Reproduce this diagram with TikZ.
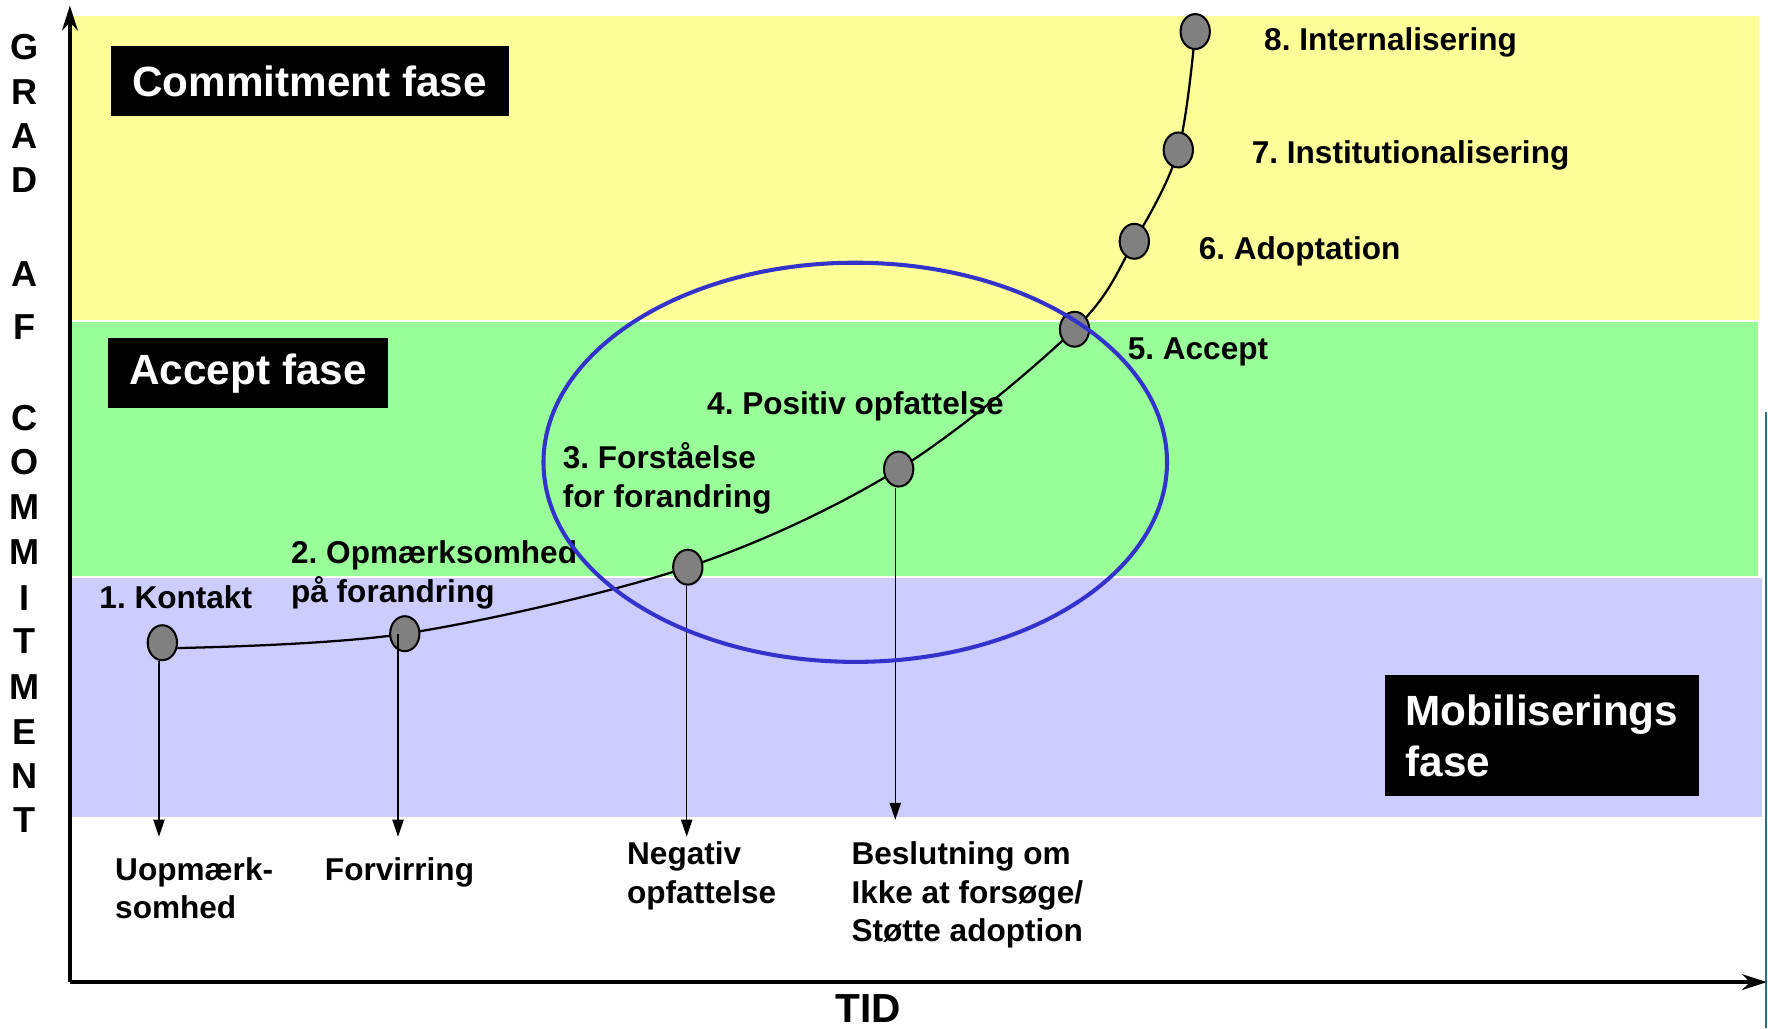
\documentclass[tikz,border=0pt]{standalone}
\usepackage{fontspec}
\setmainfont{Liberation Sans}
\usetikzlibrary{arrows.meta, positioning, shapes.geometric}
\definecolor{bandyellow}{HTML}{FFFF99}
\definecolor{bandgreen}{HTML}{99FF99}
\definecolor{bandblue}{HTML}{CCCCFF}
\definecolor{dotgray}{HTML}{808080}
\definecolor{ringblue}{HTML}{3333CC}
\definecolor{edgeteal}{HTML}{2E6A8C}
\tikzset{
    phase/.style={fill=black, text=white, font=\bfseries\fontsize{37.5}{45}\selectfont, inner sep=0pt, align=left},
    stage/.style={font=\bfseries\fontsize{28}{34}\selectfont, inner sep=0pt, align=left, anchor=north west},
    dot/.style={ellipse, draw=black, line width=1.8pt, fill=dotgray, minimum width=26pt, minimum height=31pt, inner sep=0pt},
    drop/.style={-{Triangle[length=15pt,width=10pt]}, line width=1.1pt},
    axis/.style={line width=3pt, -{Stealth[length=22pt,width=14pt,inset=7pt]}},
    axisletter/.style={font=\bfseries\fontsize{32}{32}\selectfont, inner sep=0pt},
}

\begin{document}
\frenchspacing
\begin{tikzpicture}[x=1pt, y=-1pt]
    \useasboundingbox (0,0) rectangle (1568,912);

    \fill[bandyellow] (64,14) rectangle (1560,284);
    \fill[bandgreen] (64,286) rectangle (1559,511);
    \fill[bandblue] (64,513) rectangle (1563,725);
    \draw[edgeteal, line width=2pt] (1566,365) -- (1566,912);

    \node[phase, minimum width=353pt, minimum height=62pt] (commit) at (274.5,72) {Commitment fase};
    \node[phase, minimum width=248pt, minimum height=62pt] (accept) at (220,331) {Accept fase};
    \node[phase, minimum width=279pt, minimum height=107pt] (mobil) at (1367.5,652.5) {Mobiliserings\\fase};

    \foreach \ch/\y in {G/42, R/82, A/121, D/160, A/243, F/290, C/371, O/410, M/450, M/490, I/530, T/569, M/609, E/649, N/688, T/727}
      \node[axisletter] (g\y) at (22,\y) {\ch};

    \coordinate (origin) at (62,871);
    \coordinate (ytop) at (62,5);
    \coordinate (xend) at (1567,871);
    \draw[axis] (origin) -- (ytop);
    \draw[axis] (origin) -- (xend);
    \node[font=\bfseries\fontsize{36}{36}\selectfont, inner sep=0pt, anchor=base] (tid) at (770,907) {TID};

    \node[stage] (l1) at (88,519.5) {1. Kontakt};
    \node[stage] (l2) at (258,479.5) {2. Opmærksomhed\\på forandring};
    \node[stage] (l3) at (499,392.5) {3. Forståelse\\for forandring};
    \node[stage] (l4) at (627,347.5) {4. Positiv opfattelse};
    \node[stage] (l5) at (1000,299.5) {5. Accept};
    \node[stage] (l6) at (1063,209.5) {6. Adoptation};
    \node[stage] (l7) at (1110,124.5) {7. Institutionalisering};
    \node[stage] (l8) at (1121,24.5) {8. Internalisering};

    \node[stage] (b1) at (102,760.5) {Uopmærk-\\somhed};
    \node[stage] (b2) at (288,760.5) {Forvirring};
    \node[stage] (b3) at (556,746.5) {Negativ\\opfattelse};
    \node[stage] (b4) at (755,746.5) {Beslutning om\\Ikke at forsøge/\\Støtte adoption};

    \coordinate (p1c) at (144,570);
    \coordinate (p2c) at (359,562);
    \coordinate (p3c) at (610,503);
    \coordinate (p4c) at (797,416);
    \coordinate (p5c) at (953,292);
    \coordinate (p6c) at (1006,214);
    \coordinate (p7c) at (1045,133);
    \coordinate (p8c) at (1060,28);
    \draw[line width=2pt] plot[smooth, tension=0.55] coordinates {([yshift=-5pt]p1c) (p2c) (p3c) (p4c) (p5c) (p6c) (p7c) (p8c)};

    \foreach \i in {1,...,8}
      \node[dot] (p\i) at (p\i c) {};

    \coordinate (t1) at (141,742);
    \coordinate (t2) at (353,742);
    \coordinate (t3) at (609,742);
    \coordinate (t4) at (794,727);
    \draw[drop] (p1.south -| t1) -- (t1);
    \draw[drop] (p2.center -| t2) -- (t2);
    \draw[drop] (p3.south -| t3) -- (t3);
    \draw[drop] (p4.south -| t4) -- (t4);

    \node[ellipse, draw=ringblue, line width=3.6pt, minimum width=553pt, minimum height=354pt, inner sep=0pt] (ring) at (758.5,410) {};
\end{tikzpicture}
\end{document}
